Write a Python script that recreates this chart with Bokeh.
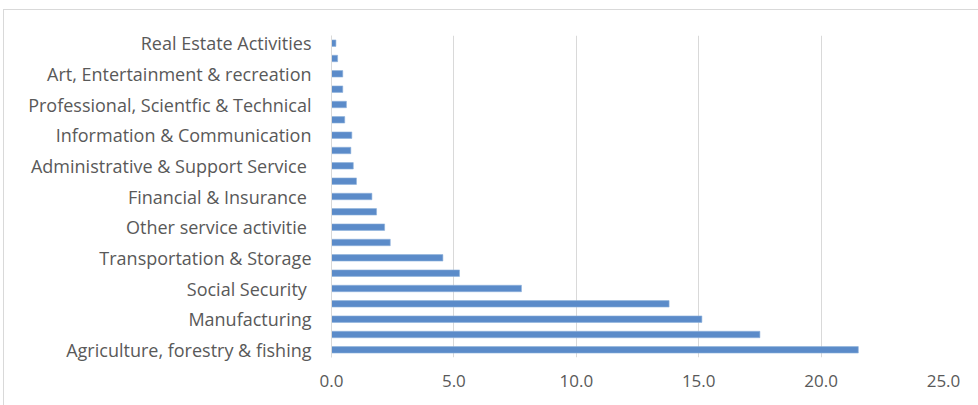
from bokeh.plotting import figure
from bokeh.models import Range1d, FixedTicker, ColumnDataSource, NumeralTickFormatter
from bokeh.embed import file_html
from bokeh.resources import INLINE

labels = ["Real Estate Activities", "", "Art, Entertainment & recreation", "",
          "Professional, Scientfic & Technical", "", "Information & Communication", "",
          "Administrative & Support Service ", "", "Financial & Insurance ", "",
          "Other service activitie ", "", "Transportation & Storage", "",
          "Social Security ", "", "Manufacturing", "", "Agriculture, forestry & fishing"]
values = [0.18, 0.25, 0.46, 0.46, 0.61, 0.54, 0.83, 0.79, 0.89, 1.02, 1.65, 1.84,
          2.17, 2.40, 4.55, 5.23, 7.76, 13.79, 15.13, 17.50, 21.52]
x_ticks = [0, 5, 10, 15, 20, 25]

pos = list(range(len(values)))
src = ColumnDataSource(dict(y=pos, v=values))

FONT = "Open Sans"
TXT = "#595959"

p = figure(width=975, height=396, output_backend="svg", toolbar_location=None,
           x_range=Range1d(0, 25), y_range=Range1d(len(values) - 0.5, -0.5),
           min_border_left=327, min_border_right=36, min_border_top=25, min_border_bottom=49)
p.styles = {"margin-left": "3px", "margin-top": "9px",
            "border-left": "1px solid #d9d9d9", "border-top": "1px solid #d9d9d9"}
p.outline_line_color = None
p.hbar(y="y", left=0, right="v", height=0.42, source=src,
       fill_color="#5B8BC9", line_color="#8FB1DC", line_width=0.6)

p.xgrid.ticker = FixedTicker(ticks=x_ticks)
p.xgrid.grid_line_color = "#d9d9d9"
p.ygrid.grid_line_color = None

p.xaxis.ticker = FixedTicker(ticks=x_ticks)
p.xaxis.formatter = NumeralTickFormatter(format="0.0")
p.xaxis.axis_line_color = None
p.xaxis.major_tick_line_color = None
p.xaxis.minor_tick_line_color = None
p.xaxis.major_label_standoff = 11

p.yaxis.ticker = FixedTicker(ticks=[i for i, l in enumerate(labels) if l])
p.yaxis.major_label_overrides = {i: l for i, l in enumerate(labels) if l}
p.yaxis.axis_line_color = "#d9d9d9"
p.yaxis.major_tick_line_color = None
p.yaxis.minor_tick_line_color = None
p.yaxis.major_label_standoff = 14

for ax in (p.xaxis, p.yaxis):
    ax.major_label_text_font = FONT
    ax.major_label_text_color = TXT
p.yaxis.major_label_text_font_size = "18px"
p.xaxis.major_label_text_font_size = "17px"

open("out.html", "w").write(file_html(p, INLINE))
